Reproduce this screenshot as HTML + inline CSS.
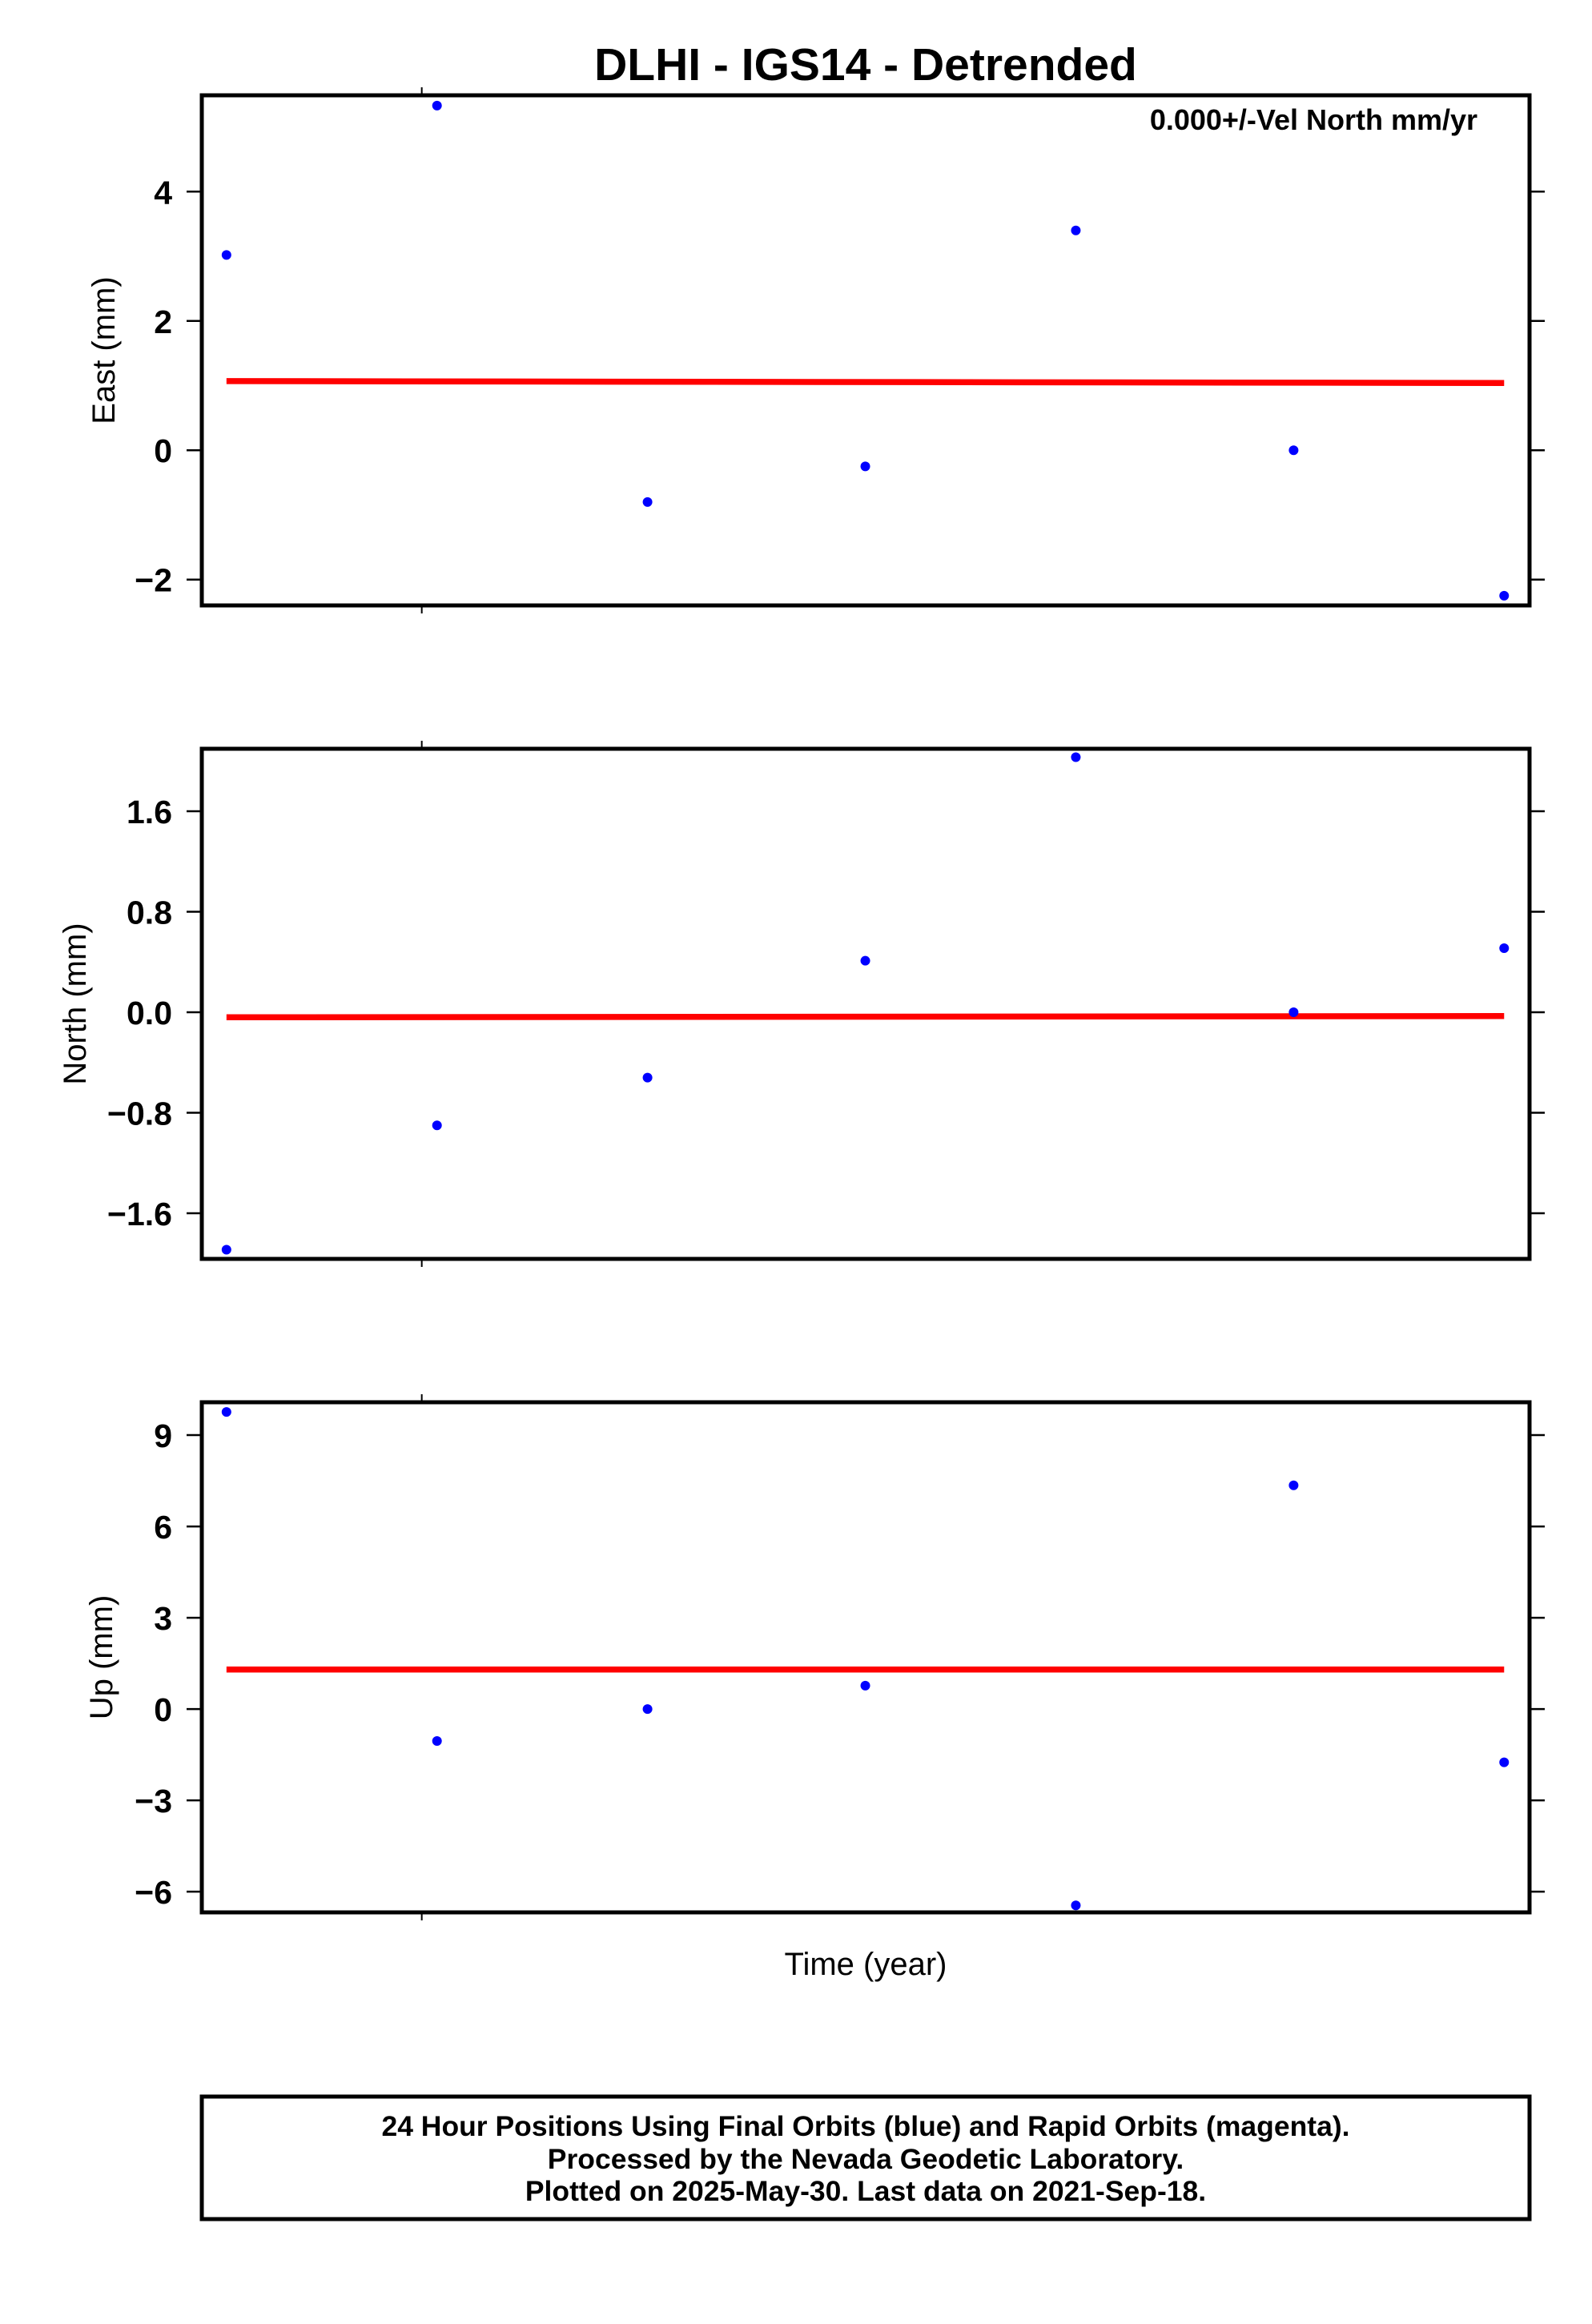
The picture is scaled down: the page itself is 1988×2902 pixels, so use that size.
<!DOCTYPE html>
<html><head><meta charset="utf-8"><title>DLHI - IGS14 - Detrended</title>
<style>html,body{margin:0;padding:0;background:#fff}svg{display:block}text{font-family:"Liberation Sans",Arial,sans-serif}</style>
</head><body>
<svg id="chart" width="1988" height="2902" viewBox="0 0 1988 2902" xmlns="http://www.w3.org/2000/svg">
<text x="1081" y="100" font-size="57" font-weight="bold" text-anchor="middle">DLHI - IGS14 - Detrended</text>
<g id="plots"></g>
<text x="1845" y="162" font-size="36" font-weight="bold" text-anchor="end">0.000+/-Vel North mm/yr</text>
<text x="1081" y="2466" font-size="40" text-anchor="middle">Time (year)</text>
<g>
<rect x="252" y="2618" width="1658" height="153" fill="none" stroke="#000" stroke-width="5"/>
<text x="1081" y="2667" font-size="35.5" font-weight="bold" text-anchor="middle">24 Hour Positions Using Final Orbits (blue) and Rapid Orbits (magenta).</text>
<text x="1081" y="2708" font-size="35.5" font-weight="bold" text-anchor="middle">Processed by the Nevada Geodetic Laboratory.</text>
<text x="1081" y="2748" font-size="35.5" font-weight="bold" text-anchor="middle">Plotted on 2025-May-30. Last data on 2021-Sep-18.</text>
</g>
</svg>
<script>
// data
const days = [0, 29, 58, 88, 117, 147, 176];
const eastValues = [3.02, 5.33, -0.8, -0.25, 3.4, 0.0, -2.25];
const northValues = [-1.89, -0.9, -0.52, 0.41, 2.03, 0.0, 0.51];
const upValues = [9.76, -1.05, 0.0, 0.77, -6.45, 7.35, -1.75];
const eastTrend = [1.07, 1.04];
const northTrend = [-0.04, -0.03];
const upTrend = [1.3, 1.3];
const eastTicks = [-2, 0, 2, 4];
const northTicks = [-1.6, -0.8, 0.0, 0.8, 1.6];
const upTicks = [-6, -3, 0, 3, 6, 9];
const eastTickLabels = ["\u22122", "0", "2", "4"];
const northTickLabels = ["\u22121.6", "\u22120.8", "0.0", "0.8", "1.6"];
const upTickLabels = ["\u22126", "\u22123", "0", "3", "6", "9"];
const xTickDays = [26.9];

const NS = "http://www.w3.org/2000/svg";
const L = 252, R = 1910;
const xMin = -3.4, xMax = 179.5;
function xs(d){ return L + (d - xMin) / (xMax - xMin) * (R - L); }
function mk(tag, attrs, parent){
  const e = document.createElementNS(NS, tag);
  for (const k in attrs) e.setAttribute(k, attrs[k]);
  parent.appendChild(e); return e;
}
const root = document.getElementById('plots');
const panels = [
  {key:'east', title:'East (mm)', top:119, bot:756, vmax:5.49, vmin:-2.40, vals:eastValues, trend:eastTrend, ticks:eastTicks, labels:eastTickLabels, tx:129},
  {key:'north', title:'North (mm)', top:935, bot:1572, vmax:2.097, vmin:-1.963, vals:northValues, trend:northTrend, ticks:northTicks, labels:northTickLabels, tx:93},
  {key:'up', title:'Up (mm)', top:1751, bot:2388, vmax:10.08, vmin:-6.68, vals:upValues, trend:upTrend, ticks:upTicks, labels:upTickLabels, tx:126}
];
panels.forEach(p => {
  const ys = v => p.top + (p.vmax - v) / (p.vmax - p.vmin) * (p.bot - p.top);
  const g = mk('g', {}, root);
  
  
  p.ticks.forEach((t, i) => {
    const y = ys(t);
    const tl = mk('line', {x1:L-19, x2:L, y1:y, y2:y, stroke:'#000', 'stroke-width':2.5}, g);
    
    
    const tr = mk('line', {x1:R, x2:R+19, y1:y, y2:y, stroke:'#000', 'stroke-width':2.5}, g);
    
    
    const lab = mk('text', {x:215, y:y+15, 'font-size':41, 'font-weight':'bold', 'text-anchor':'end'}, g);
    
    
    lab.textContent = p.labels[i];
  });
  xTickDays.forEach(d => {
    const x = xs(d);
    const a = mk('line', {x1:x, x2:x, y1:p.top-10, y2:p.top, stroke:'#000', 'stroke-width':2}, g);
    
    
    const b = mk('line', {x1:x, x2:x, y1:p.bot, y2:p.bot+10, stroke:'#000', 'stroke-width':2}, g);
    
    
  });
  const ty = (p.top + p.bot) / 2;
  const at = mk('text', {x:p.tx, y:ty, 'font-size':40, 'text-anchor':'middle', transform:'rotate(-90 ' + p.tx + ' ' + ty + ')', dy:14}, g);
  
  
  at.textContent = p.title;
  const tline = mk('line', {x1:xs(days[0]), x2:xs(days[days.length-1]), y1:ys(p.trend[0]), y2:ys(p.trend[1]), stroke:'#ff0000', 'stroke-width':7.5}, g);
  
  
  p.vals.forEach((v, i) => {
    const c = mk('circle', {cx:xs(days[i]), cy:ys(v), r:6, fill:'#0000ff'}, g);
    
    
  });
  const fr = mk('rect', {x:L, y:p.top, width:R-L, height:p.bot-p.top, fill:'none', stroke:'#000', 'stroke-width':5}, g);
  
  
});
</script>
</body></html>
